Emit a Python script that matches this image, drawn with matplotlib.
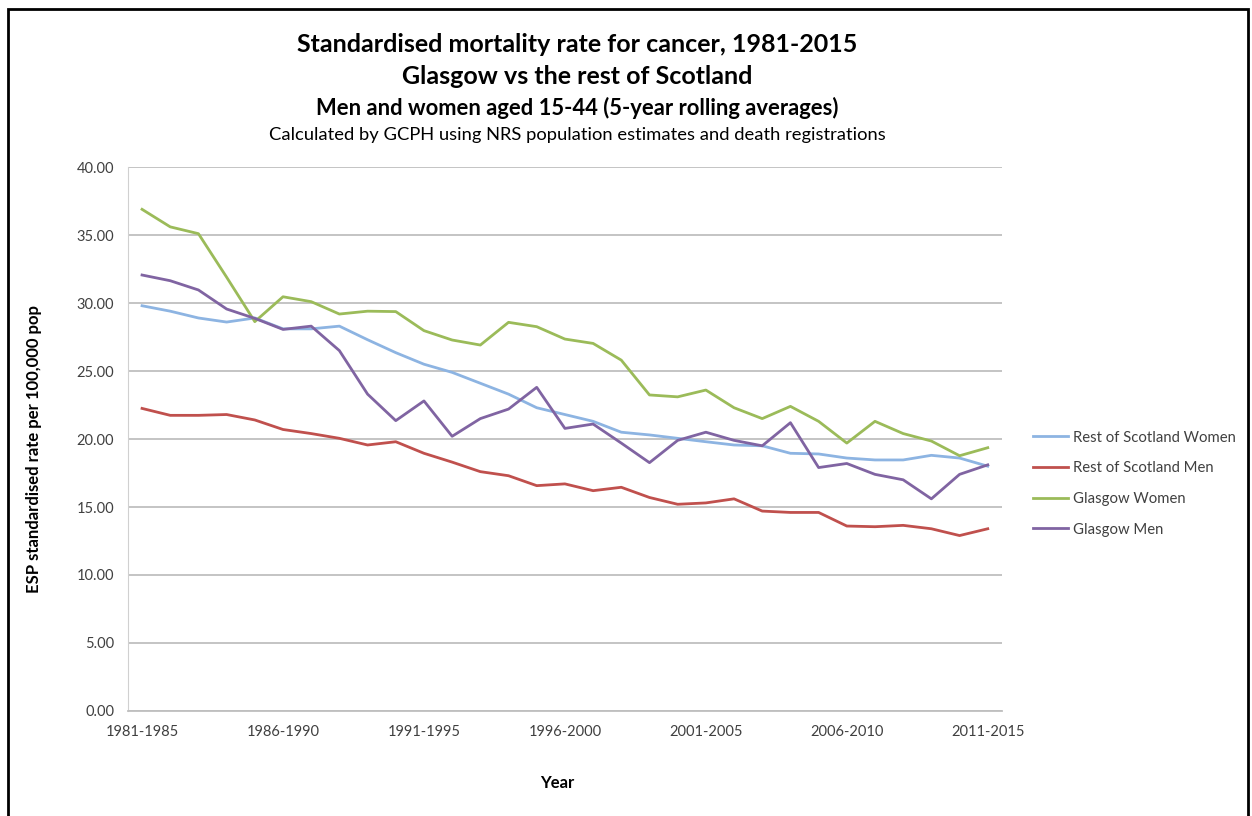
import matplotlib
matplotlib.use("Agg")
import matplotlib.pyplot as plt
from matplotlib.patches import Rectangle

plt.rcParams['font.family'] = ['Lato', 'DejaVu Sans']

periods = ["%d-%d" % (y, y + 4) for y in range(1981, 2012)]
tick_labels = ["1981-1985", "1986-1990", "1991-1995", "1996-2000",
               "2001-2005", "2006-2010", "2011-2015"]

ros_women = [29.8, 29.4, 28.9, 28.6, 28.9, 28.1, 28.1, 28.3, 27.3, 26.35,
             25.5, 24.9, 24.1, 23.3, 22.3, 21.8, 21.3, 20.5, 20.3, 20.05,
             19.8, 19.56, 19.5, 18.95, 18.9, 18.6, 18.46, 18.46, 18.8, 18.6,
             18.0]
ros_men = [22.25, 21.74, 21.74, 21.8, 21.4, 20.7, 20.4, 20.05, 19.56, 19.8,
           18.95, 18.3, 17.6, 17.3, 16.57, 16.7, 16.2, 16.45, 15.7, 15.2,
           15.3, 15.6, 14.7, 14.6, 14.6, 13.6, 13.55, 13.65, 13.4, 12.9,
           13.4]
glasgow_women = [36.89, 35.6, 35.1, 31.9, 28.63, 30.46, 30.1, 29.19, 29.4,
                 29.37, 27.97, 27.28, 26.91, 28.58, 28.26, 27.35, 27.03,
                 25.8, 23.24, 23.1, 23.6, 22.3, 21.5, 22.4, 21.3, 19.7,
                 21.3, 20.4, 19.85, 18.77, 19.36]
glasgow_men = [32.06, 31.64, 30.96, 29.56, 28.87, 28.06, 28.3, 26.5, 23.3,
               21.35, 22.8, 20.2, 21.5, 22.2, 23.8, 20.78, 21.1, 19.7, 18.26,
               19.9, 20.5, 19.9, 19.5, 21.2, 17.9, 18.2, 17.4, 17.0, 15.6,
               17.4, 18.1]

series = [
    ("Rest of Scotland Women", ros_women, "#8DB4E2"),
    ("Rest of Scotland Men", ros_men, "#C0504D"),
    ("Glasgow Women", glasgow_women, "#9BBB59"),
    ("Glasgow Men", glasgow_men, "#8064A2"),
]

fig = plt.figure(figsize=(12.52, 8.16), dpi=100)
ax = fig.add_axes([0.1022, 0.1287, 0.698, 0.6666])

x = list(range(len(periods)))
for name, vals, col in series:
    ax.plot(x, vals, color=col, lw=2.0, label=name)

ax.set_xlim(-0.5, len(periods) - 0.5)
ax.set_ylim(0, 40)
ax.set_yticks(range(0, 41, 5))
ax.set_yticklabels(["%.2f" % v for v in range(0, 41, 5)], fontsize=10.5,
                   color='#404040')
ax.set_xticks([periods.index(t) for t in tick_labels])
ax.set_xticklabels(tick_labels, fontsize=10.5, color='#404040')
ax.tick_params(length=0, pad=10)
ax.grid(axis='y', color='#BFBFBF', lw=1.3)
ax.set_axisbelow(True)
for s in ['top', 'right']:
    ax.spines[s].set_visible(False)
ax.spines['left'].set_color('#D0D0D0')
ax.spines['bottom'].set_color('#BFBFBF')
ax.spines['bottom'].set_linewidth(1.3)

fig.text(0.027, 0.45, "ESP standardised rate per 100,000 pop", rotation=90,
         ha='center', va='center', fontsize=12, fontweight='bold')
fig.text(0.445, 0.040, "Year", ha='center', va='center', fontsize=12,
         fontweight='bold')

fig.text(0.461, 0.945, "Standardised mortality rate for cancer, 1981-2015",
         ha='center', va='center', fontsize=18, fontweight='bold')
fig.text(0.461, 0.906, "Glasgow vs the rest of Scotland",
         ha='center', va='center', fontsize=18, fontweight='bold')
fig.text(0.461, 0.868, "Men and women aged 15-44 (5-year rolling averages)",
         ha='center', va='center', fontsize=15.8, fontweight='bold')
fig.text(0.461, 0.834, "Calculated by GCPH using NRS population estimates and death registrations",
         ha='center', va='center', fontsize=13.2)

leg = ax.legend(loc='center left', bbox_to_anchor=(1.02, 0.418), frameon=False,
                fontsize=10.7, handlelength=2.4, handletextpad=0.3,
                labelspacing=1.12)
for t in leg.get_texts():
    t.set_color('#404040')

fig.patches.append(Rectangle((0.0065, -0.01), 0.9905, 0.9995, transform=fig.transFigure,
                             fill=False, edgecolor='black', lw=2))

fig.savefig("out.png", dpi=100)
